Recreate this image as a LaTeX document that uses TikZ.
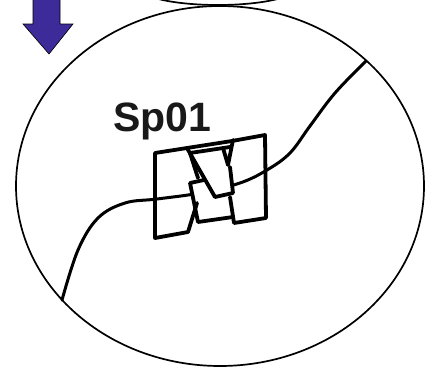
\documentclass[tikz,border=0pt]{standalone}
\usepackage{fontspec}
\setmainfont{Liberation Sans}
\definecolor{arrowblue}{RGB}{61,43,153}
\tikzset{
  panel/.style={line width=3.8pt,line join=round,line cap=round},
  curveline/.style={line width=3pt,line cap=round},
  cellline/.style={line width=1.7pt}
}
\begin{document}
\begin{tikzpicture}[x=1pt,y=-1pt]
  \useasboundingbox (0,0) rectangle (434,367);
  \clip (0,0) rectangle (434,367);
  % neighbouring cell above and the arrow
  \draw[cellline] (218,-13) ellipse (80 and 18);
  \draw[fill=arrowblue,line width=0.6pt] (33,-2) -- (60,-2) -- (60,24) -- (73,24)
    -- (49,54) -- (23,24) -- (33,24) -- cycle;
  % the cell
  \draw[cellline] (220,186) ellipse (204 and 180);
  \draw[curveline] plot[smooth,tension=0.6] coordinates {(62,300) (78,250) (98,218)
    (125,203) (157,199) (200,193) (240,183) (267,170) (290,153) (310,126) (335,93) (366,61)};
  % the spindle pole body
  \fill[white] (190,183) -- (204,180) -- (198,168) -- (230,160) -- (233,193) -- (231,197)
    -- (234,222) -- (198,222) -- cycle;
  \draw[panel] (187,148) -- (155,153) -- (155,238) -- (188,232) -- (197,203);
  \draw[panel] (187,148) -- (232,141);
  \draw[panel] (190,153) -- (230,147);
  \draw[panel] (187,148) -- (215,197) -- (233,193) -- (230,167);
  \draw[panel] (190,153) -- (198,178);
  \draw[panel] (223,148) -- (228,165) -- (233,140);
  \draw[panel] (232,141) -- (265,135) -- (266,218) -- (234,223) -- (230,197);
  \draw[panel] (204,180) -- (190,183) -- (198,222) -- (233,217);
  \node[font=\bfseries\fontsize{41}{41}\selectfont,text=black!90,inner sep=0pt,anchor=base west]
    (label) at (113,131.7) {Sp01};
\end{tikzpicture}
\end{document}
